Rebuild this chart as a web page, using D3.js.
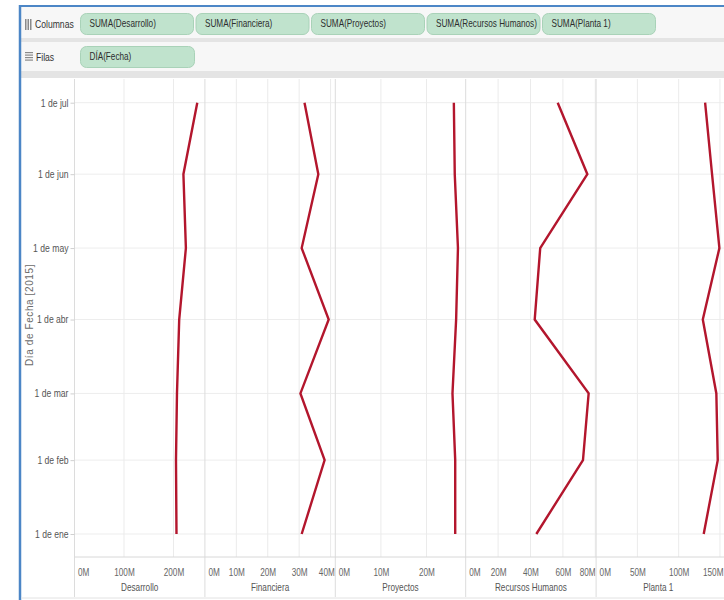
<!DOCTYPE html>
<html><head><meta charset="utf-8">
<script src="https://cdn.jsdelivr.net/npm/d3@7"></script>
<style>
body{margin:0;background:#fff;overflow:hidden}
svg{display:block}
</style>
</head><body>
<svg id="c" width="724" height="600"></svg>
<script>
// ---- data ----
const dates = ["2015-01-01","2015-02-01","2015-03-01","2015-04-01","2015-05-01","2015-06-01","2015-07-01"];
const dateLabels = ["1 de ene","1 de feb","1 de mar","1 de abr","1 de may","1 de jun","1 de jul"];
const fields = ["Desarrollo","Financiera","Proyectos","Recursos Humanos","Planta 1"];
// values in millions
const desarrollo      = [206, 205, 207, 211.5, 225, 220, 248];
const financiera      = [30.8, 38.1, 30.4, 39.4, 30.8, 36.1, 31.7];
const proyectos       = [26.3, 26.3, 25.7, 26.5, 26.9, 26.2, 26.0];
const recursosHumanos = [43.6, 72.4, 75.9, 42.6, 46.0, 75.1, 56.8];
const planta1         = [130.3, 147.3, 145.6, 129.2, 149.3, 140.4, 132.0];
const axisMax = [263.4, 41.5, 28.6, 80.5, 157.9];
const tickValues = [[0,100,200],[0,10,20,30,40],[0,10,20],[0,20,40,60,80],[0,50,100,150]];
const columnPills = ["SUMA(Desarrollo)","SUMA(Financiera)","SUMA(Proyectos)","SUMA(Recursos Humanos)","SUMA(Planta 1)"];
const rowPills = ["DÍA(Fecha)"];
const yTitle = "Día de Fecha [2015]";

const series = [desarrollo, financiera, proyectos, recursosHumanos, planta1];
const parse = d3.timeParse("%Y-%m-%d");
const dts = dates.map(parse);

const svg = d3.select("#c");
const FONT = "'Liberation Sans',Arial,sans-serif";
const SQ = 0.82; // horizontal condensing of text

// condensed text: keeps anchor position, squeezes glyphs horizontally
function condense(sel){
  sel.each(function(){
    const t = d3.select(this);
    const x = +(t.attr("x") || 0);
    t.attr("x", x / SQ).attr("transform", `scale(${SQ},1)`);
  });
}
function ctext(parent, x, y, str, size, fill, anchor){
  const t = parent.append("text").attr("x", x/SQ).attr("y", y).attr("transform",`scale(${SQ},1)`)
    .text(str).attr("font-family",FONT).attr("font-size",size).attr("fill",fill)
    .attr("text-anchor", anchor || "start");
  return t;
}

// ---- frame / shelves ----
svg.append("rect").attr("x",21).attr("y",7).attr("width",703).attr("height",31).attr("fill","#f7f7f7");
svg.append("rect").attr("x",21).attr("y",38).attr("width",703).attr("height",4).attr("fill","#e4e4e4");
svg.append("rect").attr("x",21).attr("y",42).attr("width",703).attr("height",29).attr("fill","#f7f7f7");
svg.append("rect").attr("x",21).attr("y",71).attr("width",703).attr("height",7).attr("fill","#e4e4e4");

// icons
const ic = svg.append("g").attr("fill","#8a8a8a");
[25,27.5,30].forEach(x=>ic.append("rect").attr("x",x).attr("y",19).attr("width",1.5).attr("height",11));
[52,54.5,57,59.5].forEach(y=>ic.append("rect").attr("x",25).attr("y",y).attr("width",8).attr("height",1.2));

ctext(svg,35,28,"Columnas",10.5,"#333");
ctext(svg,36,61,"Filas",10.5,"#333");

function pill(x,y,w,h,label){
  svg.append("rect").attr("x",x).attr("y",y).attr("width",w).attr("height",h)
    .attr("rx",6).attr("fill","#c0e3cd").attr("stroke","#a9d2b8").attr("stroke-width",1);
  ctext(svg, x+9, y+h/2+3.5, label, 10, "#2d2d2d");
}
columnPills.forEach((p,i)=>pill(80.5+i*115.5,13.5,113,21,p));
rowPills.forEach((p,i)=>pill(80.5+i*115.5,46.5,114,21,p));

// blue border
svg.append("line").attr("x1",20).attr("x2",20).attr("y1",5).attr("y2",600).attr("stroke","#4c86c6").attr("stroke-width",2.5);
svg.append("line").attr("x1",19).attr("x2",724).attr("y1",6).attr("y2",6).attr("stroke","#4c86c6").attr("stroke-width",2);
svg.append("line").attr("x1",21).attr("x2",724).attr("y1",598).attr("y2",598).attr("stroke","#e2e2e2").attr("stroke-width",1);

// ---- view ----
const paneTop = 79, paneBottom = 557, paneW = 130.4, pane0 = 74.5;
const y = d3.scaleTime().domain([dts[0], dts[6]]).range([534, 102.7]);

// horizontal gridlines
svg.append("g").selectAll("line").data(dts).join("line")
  .attr("x1",pane0).attr("x2",724).attr("y1",d=>y(d)).attr("y2",d=>y(d))
  .attr("stroke","#ededed").attr("stroke-width",1);

fields.forEach((f,i)=>{
  const left = pane0 + i*paneW, right = left + paneW;
  const visRight = Math.min(right, 724);
  const x = d3.scaleLinear().domain([0, axisMax[i]]).range([left, right]);
  // vertical gridlines
  svg.append("g").selectAll("line").data(tickValues[i].filter(v=>v>0)).join("line")
    .attr("x1",d=>x(d)).attr("x2",d=>x(d)).attr("y1",paneTop).attr("y2",paneBottom)
    .attr("stroke","#ebebeb").attr("stroke-width",1);
  // axis labels
  const ax = svg.append("g").attr("transform",`translate(0,${paneBottom+9})`)
    .call(d3.axisBottom(x).tickValues(tickValues[i]).tickSize(0).tickFormat(d=>d+"M"));
  ax.select(".domain").remove();
  ax.selectAll("text").attr("font-family",FONT).attr("font-size",10).attr("fill","#666").attr("dy","0.71em");
  ax.selectAll(".tick").each(function(d){
    const t = d3.select(this).select("text");
    const w = t.node().getComputedTextLength() * SQ;
    const cx = x(d);
    let l = cx - w/2;
    if (l < left + 3) l = left + 3;
    if (l + w > visRight - 1) l = visRight - 1 - w;
    t.attr("text-anchor","start").attr("x", l - cx);
  });
  condense(ax.selectAll("text"));
  // field title
  ctext(svg,(left+right)/2 - (i===4 ? 3 : 0),591,f,10,"#555","middle");
  // line
  const line = d3.line().x((v)=>x(v)).y((v,j)=>y(dts[j]));
  svg.append("path").datum(series[i]).attr("d",line)
    .attr("fill","none").attr("stroke","#b3162d").attr("stroke-width",2.4)
    .attr("stroke-linejoin","miter");
});

// pane separators
for (let i=0;i<=5;i++){
  const xx = pane0 + i*paneW;
  svg.append("line").attr("x1",xx).attr("x2",xx).attr("y1",paneTop).attr("y2",597)
    .attr("stroke","#dcdcdc").attr("stroke-width",1);
}
// axis baseline
svg.append("line").attr("x1",pane0).attr("x2",724).attr("y1",paneBottom).attr("y2",paneBottom)
  .attr("stroke","#d8d8d8").attr("stroke-width",1);

// y axis
const ya = svg.append("g").attr("transform",`translate(${pane0},0)`)
  .call(d3.axisLeft(y).tickValues(dts).tickSize(4).tickPadding(2).tickFormat((d,i)=>dateLabels[i]));
ya.select(".domain").remove();
ya.selectAll("line").attr("stroke","#d0d0d0");
ya.selectAll("text").attr("font-family",FONT).attr("font-size",10.5).attr("fill","#555");
condense(ya.selectAll("text"));

svg.append("text").attr("transform","translate(33,315) rotate(-90)").attr("text-anchor","middle")
  .text(yTitle).attr("font-family",FONT).attr("font-size",10)
  .attr("letter-spacing",0.6).attr("fill","#6a6a6a");
</script>
</body></html>
